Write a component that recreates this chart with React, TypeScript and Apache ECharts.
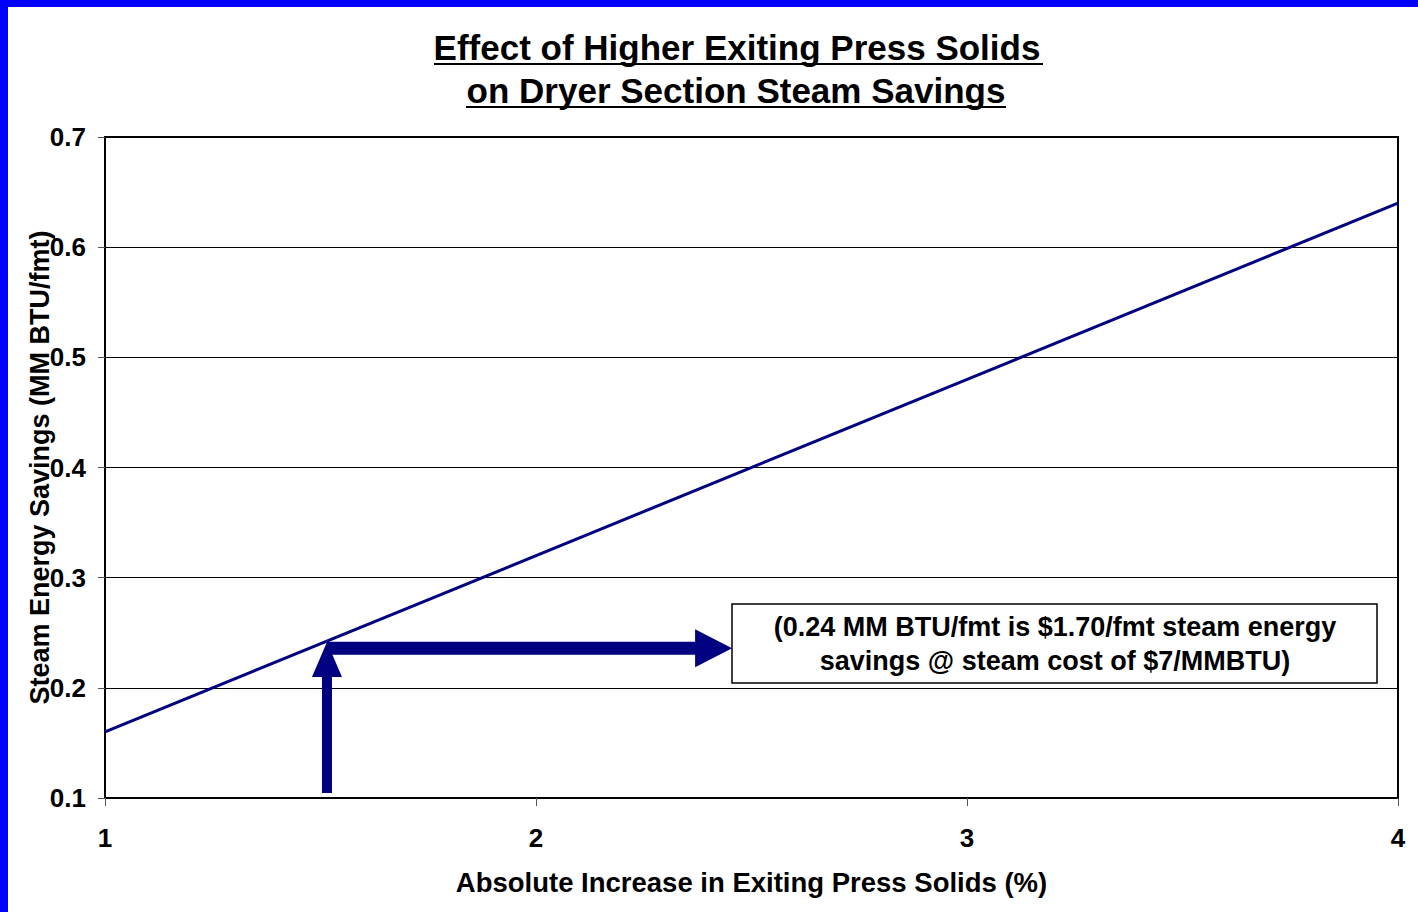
import React, { useEffect, useRef } from "react";
import * as echarts from "echarts";

const titleLines = ["Effect of Higher Exiting Press Solids", "on Dryer Section Steam Savings"];
const xAxisName = "Absolute Increase in Exiting Press Solids (%)";
const yAxisName = "Steam Energy Savings (MM BTU/fmt)";
const xTicks = [1, 2, 3, 4];
const yTicks = [0.1, 0.2, 0.3, 0.4, 0.5, 0.6, 0.7];
const lineX = [1, 4];
const lineY = [0.16, 0.64];
const arrowStarts = [
  [1.515, 0.1045],
  [1.515, 0.236],
];
const arrowEnds = [
  [1.515, 0.2416],
  [2.455, 0.236],
];
const noteLines = ["(0.24 MM BTU/fmt is $1.70/fmt steam energy", "savings @ steam cost of $7/MMBTU)"];

const FONT = '"Liberation Sans", Arial, sans-serif';
const NAVY = "#000080";

export default function App() {
  const ref = useRef<HTMLDivElement>(null);

  useEffect(() => {
    if (!ref.current) return;
    const chart = echarts.init(ref.current, null, { renderer: "svg" });
    const arrowSizes = [
      { sw: 5, hw: 15, hl: 35 },
      { sw: 6.5, hw: 19, hl: 37 },
    ];
    const arrowData = arrowStarts.map((s, i) => [s[0], s[1], arrowEnds[i][0], arrowEnds[i][1]]);

    const option: any = {
      animation: false,
      backgroundColor: "#ffffff",
      grid: {
        left: 105,
        top: 137,
        right: 20,
        bottom: 114,
        show: true,
        borderColor: "#000",
        borderWidth: 2,
        backgroundColor: "transparent",
      },
      xAxis: {
        type: "value",
        min: xTicks[0],
        max: xTicks[xTicks.length - 1],
        interval: 1,
        name: xAxisName,
        nameLocation: "middle",
        nameGap: 70,
        nameMoveOverlap: false,
        nameTextStyle: { fontFamily: FONT, fontWeight: "bold", fontSize: 27.5, color: "#000" },
        axisLine: { show: true, lineStyle: { color: "#000", width: 2 } },
        axisTick: { show: true, length: 8, lineStyle: { color: "#555", width: 1 } },
        axisLabel: {
          margin: 27,
          fontFamily: FONT,
          fontWeight: "bold",
          fontSize: 26,
          color: "#000",
          formatter: (v: number) => String(v),
        },
        splitLine: { show: false },
      },
      yAxis: {
        type: "value",
        min: yTicks[0],
        max: yTicks[yTicks.length - 1],
        interval: 0.1,
        name: yAxisName,
        nameLocation: "middle",
        nameRotate: 90,
        nameGap: 52,
        nameMoveOverlap: false,
        nameTextStyle: { fontFamily: FONT, fontWeight: "bold", fontSize: 27, color: "#000" },
        axisLine: { show: true, lineStyle: { color: "#000", width: 2 } },
        axisTick: { show: true, length: 7, lineStyle: { color: "#555", width: 1 } },
        axisLabel: {
          margin: 19,
          fontFamily: FONT,
          fontWeight: "bold",
          fontSize: 26,
          color: "#000",
          formatter: (v: number) => v.toFixed(1),
        },
        splitLine: { show: true, lineStyle: { color: "#000", width: 1 } },
      },
      series: [
        {
          type: "line",
          data: lineX.map((x, i) => [x, lineY[i]]),
          showSymbol: false,
          lineStyle: { color: NAVY, width: 3 },
          z: 3,
        },
        {
          type: "custom",
          encode: { x: [0, 2], y: [1, 3] },
          data: arrowData,
          z: 4,
          renderItem: (params: any, api: any) => {
            const p1 = api.coord([api.value(0), api.value(1)]);
            const p2 = api.coord([api.value(2), api.value(3)]);
            const s = arrowSizes[params.dataIndex];
            const dx = p2[0] - p1[0];
            const dy = p2[1] - p1[1];
            const L = Math.sqrt(dx * dx + dy * dy) || 1;
            const ux = dx / L, uy = dy / L;
            const nx = -uy, ny = ux;
            const bx = p2[0] - ux * s.hl, by = p2[1] - uy * s.hl;
            const pts = [
              [p1[0] + nx * s.sw, p1[1] + ny * s.sw],
              [bx + nx * s.sw, by + ny * s.sw],
              [bx + nx * s.hw, by + ny * s.hw],
              [p2[0], p2[1]],
              [bx - nx * s.hw, by - ny * s.hw],
              [bx - nx * s.sw, by - ny * s.sw],
              [p1[0] - nx * s.sw, p1[1] - ny * s.sw],
            ];
            return { type: "polygon", shape: { points: pts }, style: { fill: NAVY } };
          },
        },
      ],
      graphic: [
        { type: "rect", shape: { x: 0, y: 0, width: 8, height: 912 }, style: { fill: "#0000ff" }, z: 10 },
        { type: "rect", shape: { x: 0, y: 0, width: 1418, height: 7 }, style: { fill: "#0000ff" }, z: 10 },
        {
          type: "text",
          x: 737,
          y: 47,
          style: {
            text: titleLines[0],
            textAlign: "center",
            textVerticalAlign: "middle",
            font: `bold 35px ${FONT}`,
            fill: "#000",
          },
        },
        {
          type: "text",
          x: 736,
          y: 90,
          style: {
            text: titleLines[1],
            textAlign: "center",
            textVerticalAlign: "middle",
            font: `bold 35px ${FONT}`,
            fill: "#000",
          },
        },
        { type: "line", shape: { x1: 434, y1: 64, x2: 1043, y2: 64 }, style: { stroke: "#000", lineWidth: 2 } },
        { type: "line", shape: { x1: 466, y1: 107, x2: 1006, y2: 107 }, style: { stroke: "#000", lineWidth: 2 } },
        {
          type: "rect",
          shape: { x: 732, y: 604, width: 645, height: 79 },
          style: { fill: "#fff", stroke: "#000", lineWidth: 1.5 },
          z: 5,
        },
        {
          type: "text",
          x: 1055,
          y: 644,
          z: 6,
          style: {
            text: noteLines.join("\n"),
            textAlign: "center",
            textVerticalAlign: "middle",
            font: `bold 27px ${FONT}`,
            lineHeight: 34,
            fill: "#000",
          },
        },
      ],
    };
    chart.setOption(option);
    return () => chart.dispose();
  }, []);

  return (
    <div
      ref={ref}
      style={{ position: "fixed", left: 0, top: 0, width: 1418, height: 912, background: "#fff" }}
    />
  );
}
